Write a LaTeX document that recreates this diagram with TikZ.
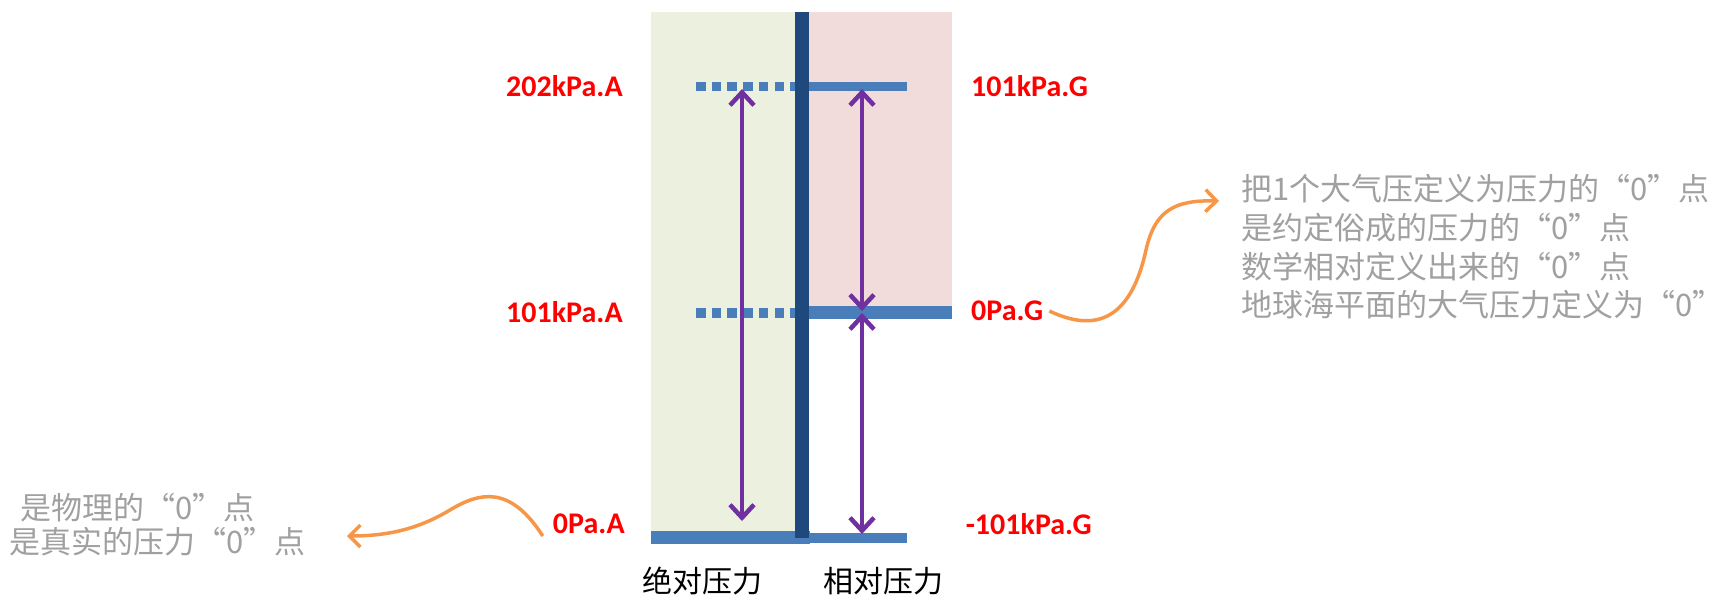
\documentclass[tikz,border=0pt]{standalone}
\usepackage{fontspec}
\setmainfont{Carlito}
\newfontfamily\cjk{Noto Sans CJK SC}
\usetikzlibrary{arrows.meta}
\definecolor{greenbg}{HTML}{EBF1DE}
\definecolor{pinkbg}{HTML}{F2DCDB}
\definecolor{levelblue}{HTML}{4A7EBB}
\definecolor{darkbar}{HTML}{1F497D}
\definecolor{arrowpurple}{HTML}{7030A0}
\definecolor{noteorange}{HTML}{F79646}
\definecolor{notegray}{HTML}{A0A0A0}
\tikzset{
  level/.style={levelblue, line width=#1},
  dashlevel/.style={levelblue, line width=#1, dash pattern=on 9.5pt off 6.2pt},
  measure/.style={arrowpurple, line width=4.5pt, {Straight Barb[length=13pt,width=24pt,line width=4.5pt]}-{Straight Barb[length=13pt,width=24pt,line width=4.5pt]}, shorten <=1pt, shorten >=1pt},
  callout/.style={noteorange, line width=3.5pt, -{Straight Barb[length=11pt,width=22pt,line width=3.5pt]}},
  redlabel/.style={text=red, font=\fontsize{30}{35}\selectfont\bfseries, inner sep=0pt},
  graytext/.style={text=notegray, font=\cjk\fontsize{31}{38.8}\selectfont, inner sep=0pt, align=left},
  axislabel/.style={text=black, font=\cjk\fontsize{30}{36}\selectfont, inner sep=0pt}
}
\begin{document}
\begin{tikzpicture}[x=1pt,y=-1pt]
\useasboundingbox (0,0) rectangle (1725,597);
% backgrounds
\fill[greenbg] (651,12) rectangle (802,531);
\fill[pinkbg] (802,12) rectangle (952,306);
% level coordinates
\coordinate (a2L) at (696,86.5);   \coordinate (a2R) at (800,86.5);
\coordinate (g1L) at (809,86.5);   \coordinate (g1R) at (907,86.5);
\coordinate (a1L) at (696,313);    \coordinate (a1R) at (800,313);
\coordinate (g0L) at (809,312.5);  \coordinate (g0R) at (952,312.5);
\coordinate (a0L) at (651,537.5);  \coordinate (a0R) at (810,537.5);
\coordinate (gmL) at (809,538);    \coordinate (gmR) at (907,538);
\coordinate (barT) at (802,12);    \coordinate (barB) at (802,538);
% levels
\draw[dashlevel=9pt] (a2L) -- (a2R);
\draw[dashlevel=10pt] (a1L) -- (a1R);
\draw[level=9pt] (g1L) -- (g1R);
\draw[level=13pt] (g0L) -- (g0R);
\draw[level=13pt] (a0L) -- (a0R);
\draw[level=10pt] (gmL) -- (gmR);
% central bar
\draw[darkbar, line width=14pt] (barT) -- (barB);
% measurement arrows
\coordinate (absTop) at (742,88);  \coordinate (absBot) at (742,522);
\coordinate (relTop) at (862,88);  \coordinate (relMid) at (862,312);
\coordinate (relBot) at (862,535);
\draw[measure] (absTop) -- (absBot);
\draw[measure] (relTop) -- (relMid);
\draw[measure] (relMid) -- (relBot);
% red labels
\node[redlabel, anchor=east] (l202A) at (623,86) {202kPa.A};
\node[redlabel, anchor=east] (l101A) at (623,312) {101kPa.A};
\node[redlabel, anchor=east] (l0A) at (625,524) {0Pa.A};
\node[redlabel, anchor=west] (l101G) at (971,86) {101kPa.G};
\node[redlabel, anchor=west] (l0G) at (971,311) {0Pa.G};
\node[redlabel, anchor=east] (lm101G) at (1092,524) {-101kPa.G};
% axis labels
\node[axislabel] (absname) at (702,581) {绝对压力};
\node[axislabel] (relname) at (883,581) {相对压力};
% gray notes
\node[graytext, anchor=north west] (noteR) at (1241,174) {把1个大气压定义为压力的“0”点\\是约定俗成的压力的“0”点\\数学相对定义出来的“0”点\\地球海平面的大气压力定义为“0”};
\node[graytext, anchor=west] (noteL1) at (20,508) {是物理的“0”点};
\node[graytext, anchor=west] (noteL2) at (9,542) {是真实的压力“0”点};
% callouts
\coordinate (cR) at (1219,201);
\coordinate (cL) at (347,536);
\draw[callout] ([xshift=6pt]l0G.east) .. controls (1110,340) and (1135,300) .. (1146,250) .. controls (1155,210) and (1175,200) .. (cR);
\draw[callout] ([xshift=-10pt,yshift=-12pt]l0A.west) .. controls (510,485) and (480,492) .. (450,510) .. controls (420,528) and (390,536) .. (cL);
\end{tikzpicture}
\end{document}
